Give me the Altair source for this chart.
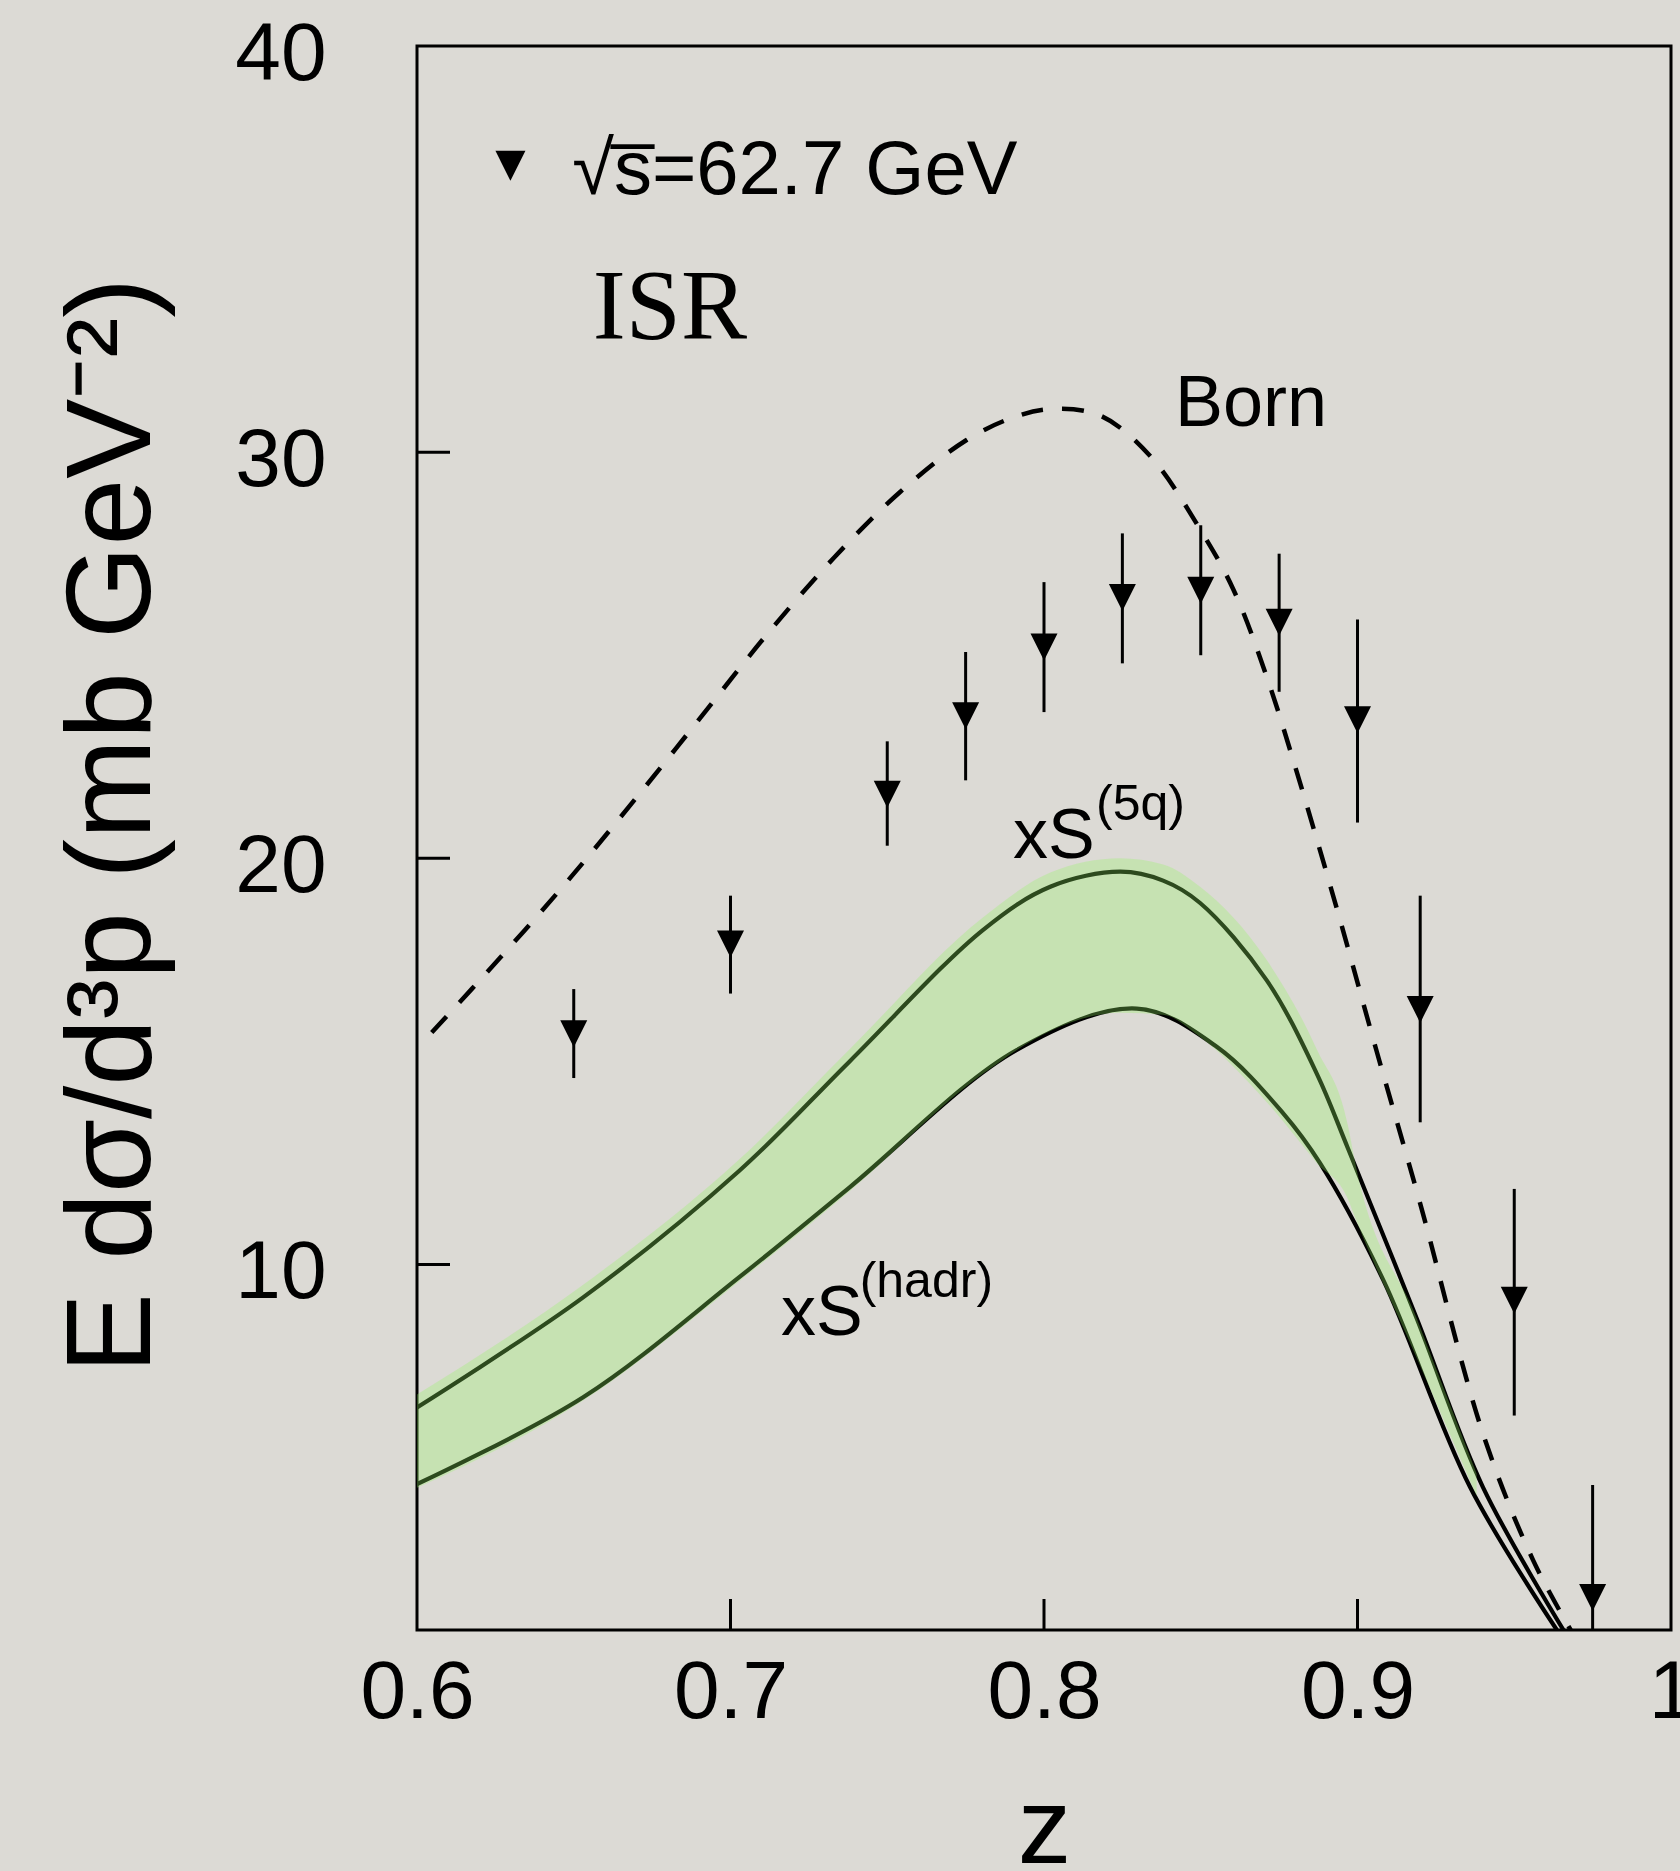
import altair as alt
import pandas as pd

# ---------------- data ----------------
# ISR data points (upper limits drawn as downward arrows)
pt_z  = [0.65, 0.70, 0.75, 0.775, 0.80, 0.825, 0.85, 0.875, 0.90, 0.92, 0.95, 0.975]
pt_v  = [15.68, 17.89, 21.58, 23.51, 25.20, 26.42, 26.60, 25.81, 23.41, 16.28, 9.12, 1.80]
pt_hi = [16.78, 19.08, 22.88, 25.08, 26.80, 28.00, 28.20, 27.50, 25.88, 19.08, 11.86, 4.57]
pt_lo = [14.59, 16.67, 20.31, 21.92, 23.60, 24.80, 25.00, 24.10, 20.88, 13.50, 6.28, 1.00]

# Born (dashed)
born_z = [0.6047, 0.6265, 0.6478, 0.669, 0.6903, 0.7115, 0.733, 0.7541, 0.7753, 0.790,
          0.8019, 0.8179, 0.8338, 0.8498, 0.8604, 0.871, 0.8817, 0.894, 0.906, 0.920,
          0.940, 0.956, 0.968]
born_v = [15.71, 17.55, 19.42, 21.40, 23.45, 25.50, 27.40, 29.02, 30.30, 30.85,
          31.06, 30.90, 29.91, 28.10, 26.62, 24.48, 21.85, 18.60, 15.28, 11.50,
          5.84, 2.72, 1.00]

# xS(5q) (upper solid)
s5q_z = [0.600, 0.653, 0.703, 0.738, 0.7806, 0.802, 0.8243, 0.838, 0.8498, 0.871,
         0.887, 0.897, 0.9189, 0.940, 0.9657]
s5q_v = [6.48, 9.19, 12.32, 15.00, 18.24, 19.30, 19.67, 19.45, 18.90, 17.00,
         14.70, 12.85, 8.67, 4.52, 1.00]

# xS(hadr) (lower solid)
had_z = [0.600, 0.653, 0.703, 0.738, 0.7913, 0.8296, 0.8551, 0.8763, 0.888,
         0.9082, 0.9359, 0.9636]
had_v = [4.59, 6.73, 9.70, 11.90, 15.28, 16.30, 15.36, 13.72, 12.50,
         9.62, 4.52, 1.00]

# green uncertainty band
band_z  = [0.600, 0.653, 0.703, 0.738, 0.7806, 0.802, 0.8243, 0.838, 0.8498, 0.871,
           0.887, 0.897, 0.899, 0.9189, 0.938]
band_hi = [6.80, 9.50, 12.60, 15.30, 18.55, 19.65, 20.00, 19.85, 19.30, 17.50,
           15.30, 13.40, 12.60, 8.67, 4.85]
band_lo = [4.50, 6.65, 9.60, 11.80, 14.70, 15.75, 16.20, 16.15, 15.60, 14.00,
           12.50, 11.60, 11.20, 7.70, 4.30]

# axes
x_ticks = [0.6, 0.7, 0.8, 0.9, 1.0]
y_ticks = [10, 20, 30, 40]
x_inner_ticks = [0.7, 0.8, 0.9]
y_inner_ticks = [10, 20, 30]

# annotations
sans_txt = ["\u221as\u0305=62.7 GeV", "Born", "xS", "xS"]
sans_z = [0.6495, 0.8418, 0.7901, 0.7161]
sans_v = [36.36, 30.65, 20.01, 8.27]
sans_fs = [76, 72, 70, 70]
sup_txt = ["(5q)", "(hadr)"]
sup_z = [0.8166, 0.7412]
sup_v = [20.95, 9.21]
serif_txt = ["ISR"]
serif_z = [0.6561]
serif_v = [32.80]
leg_z = [0.6298]
leg_v = [37.05]

# ---------------- chart ----------------
W, H = 1254, 1584
FONT = "Liberation Sans"
TRI = "M-1,-1L1,-1L0,1Z"
CURVE = "catmull-rom"

xs = alt.Scale(domain=[0.6, 1.0], nice=False, zero=False)
ys = alt.Scale(domain=[1, 40], nice=False, zero=False)

x_axis = alt.Axis(values=x_ticks, format="~g", labelFont=FONT, labelFontSize=82,
                  labelColor="black", labelPadding=22, labelFlush=False,
                  labelOverlap=False, labelBound=False, ticks=False, tickSize=0,
                  domain=False, grid=False, title="z", titleFont=FONT,
                  titleFontSize=107, titleFontWeight="normal", titleColor="black",
                  titleX=W / 2, titleY=232, titleAlign="center",
                  titleBaseline="alphabetic")
y_axis = alt.Axis(values=y_ticks, labelFont=FONT, labelFontSize=82,
                  labelColor="black", labelPadding=91, labelOffset=8,
                  labelFlush=False, labelOverlap=False, labelBound=False,
                  ticks=False, tickSize=0, domain=False, grid=False,
                  title="E d\u03c3/d\u00b3p (mb GeV\u207b\u00b2)", titleFont=FONT,
                  titleFontSize=120, titleFontWeight="normal", titleColor="black",
                  titleAngle=270, titleX=-268, titleY=779, titleAlign="center",
                  titleBaseline="alphabetic")

X = alt.X("z:Q", scale=xs, axis=x_axis)
Y = alt.Y("v:Q", scale=ys, axis=y_axis)

curves = pd.DataFrame(
    {"z": s5q_z + had_z,
     "v": s5q_v + had_v,
     "c": ["5q"] * len(s5q_z) + ["hadr"] * len(had_z)})
lines = alt.Chart(curves).mark_line(color="black", strokeWidth=4.2, interpolate=CURVE,
                                    clip=True).encode(x=X, y=Y, detail="c:N")

band_df = pd.DataFrame({"z": band_z, "v": band_hi, "v2": band_lo})
band = alt.Chart(band_df).mark_area(color="#96f564", opacity=0.3, interpolate="monotone",
                                    clip=True).encode(x=X, y=Y, y2=alt.Y2("v2:Q"))

born_df = pd.DataFrame({"z": born_z, "v": born_v})
born = alt.Chart(born_df).mark_line(color="black", strokeWidth=4.5, strokeDash=[22, 19],
                                    interpolate=CURVE, clip=True).encode(x=X, y=Y)

pts = pd.DataFrame({"z": pt_z, "v": pt_v, "hi": pt_hi, "lo": pt_lo})
bars = alt.Chart(pts).mark_rule(color="black", strokeWidth=3, clip=True).encode(
    x=X, y=alt.Y("hi:Q", scale=ys, axis=y_axis), y2=alt.Y2("lo:Q"))
tris = alt.Chart(pts).mark_point(shape=TRI, filled=True, size=729, color="black",
                                 opacity=1).encode(x=X, y=Y)

leg = alt.Chart(pd.DataFrame({"z": leg_z, "v": leg_v})).mark_point(
    shape=TRI, filled=True, size=900, color="black", opacity=1).encode(x=X, y=Y)

sans = alt.Chart(pd.DataFrame({"z": sans_z, "v": sans_v, "t": sans_txt, "fs": sans_fs})
                 ).mark_text(font=FONT, align="left", baseline="alphabetic",
                             color="black").encode(
    x=X, y=Y, text="t:N", size=alt.Size("fs:Q", scale=None))
sup = alt.Chart(pd.DataFrame({"z": sup_z, "v": sup_v, "t": sup_txt})).mark_text(
    font=FONT, fontSize=50, align="left", baseline="alphabetic", color="black").encode(
    x=X, y=Y, text="t:N")
serif = alt.Chart(pd.DataFrame({"z": serif_z, "v": serif_v, "t": serif_txt})).mark_text(
    font="Liberation Serif", fontSize=99, align="left", baseline="alphabetic",
    color="black").encode(x=X, y=Y, text="t:N")

yt = alt.Chart(pd.DataFrame({"v": y_inner_ticks})).mark_rule(
    color="black", strokeWidth=3).encode(y=Y, x=alt.value(0), x2=alt.value(33))
xt = alt.Chart(pd.DataFrame({"z": x_inner_ticks})).mark_rule(
    color="black", strokeWidth=3).encode(x=X, y=alt.value(H), y2=alt.value(H - 31))

chart = alt.layer(lines, band, born, bars, tris, leg, sans, sup, serif, yt, xt).properties(
    width=W, height=H, background="#dcdad5",
    autosize=alt.AutoSizeParams(type="none"),
    padding={"left": 417, "top": 46, "right": 9, "bottom": 241},
).configure_view(stroke="black", strokeWidth=3, fill="#dcdad5")

chart.save("out.html", embed_options={"renderer": "svg", "actions": False})
